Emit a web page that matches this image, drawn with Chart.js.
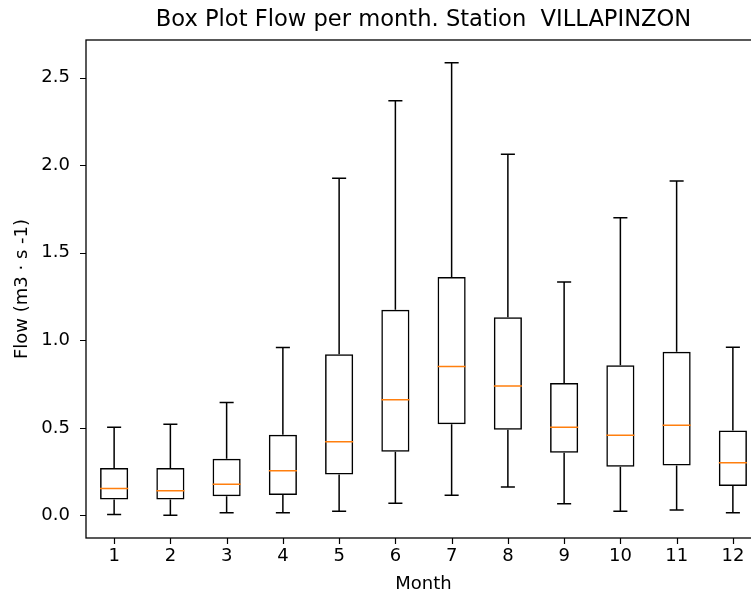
<!DOCTYPE html>
<html>
<head>
<meta charset="utf-8">
<title>Box Plot Flow per month</title>
<script src="https://cdn.jsdelivr.net/npm/chart.js@4.4.1/dist/chart.umd.min.js"></script>
<style>
  html, body { margin: 0; padding: 0; background: #fff; overflow: hidden; }
  #wrap { width: 751px; height: 595px; overflow: hidden; position: relative; }
  canvas { position: absolute; left: 0; top: 0; }
</style>
</head>
<body>
<div id="wrap"><canvas id="chart" width="847" height="595"></canvas></div>
<script>
// monthly flow statistics (m3/s)
const months = [1, 2, 3, 4, 5, 6, 7, 8, 9, 10, 11, 12];
const whiskerLow  = [0.005, 0.000, 0.015, 0.015, 0.023, 0.069, 0.115, 0.162, 0.067, 0.023, 0.030, 0.015];
const q1          = [0.090, 0.090, 0.109, 0.116, 0.233, 0.363, 0.520, 0.489, 0.357, 0.277, 0.285, 0.168];
const medians     = [0.153, 0.141, 0.178, 0.255, 0.420, 0.661, 0.850, 0.739, 0.503, 0.458, 0.515, 0.300];
const q3          = [0.270, 0.270, 0.324, 0.460, 0.920, 1.175, 1.362, 1.131, 0.756, 0.857, 0.934, 0.485];
const whiskerHigh = [0.504, 0.520, 0.645, 0.959, 1.925, 2.368, 2.586, 2.063, 1.333, 1.700, 1.910, 0.960];
const yTickValues = [0, 0.5, 1.0, 1.5, 2.0, 2.5];
const chartTitle = 'Box Plot Flow per month. Station  VILLAPINZON';

const BOX_HALF = 0.25;   // half box width, in x units
const CAP_HALF = 0.125;  // half cap width
const TICK_LEN = 6;
const FONT = "'DejaVu Sans', sans-serif";

// axis limits with 5% margin, like matplotlib autoscale
const lo = Math.min(...whiskerLow), hi = Math.max(...whiskerHigh);
const margin = (hi - lo) * 0.05;

// whisker segments + caps, separated by gaps
const whiskerPts = [];
const medianPts = [];
months.forEach((m, i) => {
  whiskerPts.push({x: m, y: q3[i]}, {x: m, y: whiskerHigh[i]}, {x: m, y: null});
  whiskerPts.push({x: m, y: q1[i]}, {x: m, y: whiskerLow[i]}, {x: m, y: null});
  whiskerPts.push({x: m - CAP_HALF, y: whiskerHigh[i]}, {x: m + CAP_HALF, y: whiskerHigh[i]}, {x: m, y: null});
  whiskerPts.push({x: m - CAP_HALF, y: whiskerLow[i]}, {x: m + CAP_HALF, y: whiskerLow[i]}, {x: m, y: null});
  medianPts.push({x: m - BOX_HALF, y: medians[i]}, {x: m + BOX_HALF, y: medians[i]}, {x: m, y: null});
});

// axes frame, outward tick marks, and the title centred over the plot area
const frame = {
  id: 'frame',
  afterDraw(chart) {
    const a = chart.chartArea, ctx = chart.ctx;
    const xs = chart.scales.x, ys = chart.scales.y;
    ctx.save();
    ctx.strokeStyle = '#000';
    ctx.lineWidth = 1.2;
    ctx.beginPath();
    months.forEach(v => {
      const px = Math.round(xs.getPixelForValue(v)) + 0.5;
      ctx.moveTo(px, a.bottom);
      ctx.lineTo(px, a.bottom + TICK_LEN);
    });
    yTickValues.forEach(v => {
      const py = Math.round(ys.getPixelForValue(v)) + 0.5;
      ctx.moveTo(a.left - TICK_LEN, py);
      ctx.lineTo(a.left, py);
    });
    ctx.stroke();
    ctx.lineWidth = 1.3;
    ctx.strokeRect(a.left, a.top, a.right - a.left, a.bottom - a.top);
    ctx.fillStyle = '#000';
    ctx.font = '22.6px ' + FONT;
    ctx.textAlign = 'center';
    ctx.textBaseline = 'middle';
    ctx.fillText(chartTitle, (a.left + a.right) / 2, a.top - 20);
    ctx.restore();
  }
};

new Chart(document.getElementById('chart'), {
  type: 'bar',
  data: {
    datasets: [
      {
        type: 'bar',
        data: months.map((m, i) => ({x: m, y: [q1[i], q3[i]]})),
        backgroundColor: 'rgba(0,0,0,0)',
        borderColor: '#000',
        borderWidth: 1.5,
        borderSkipped: false,
        barPercentage: 0.5,
        categoryPercentage: 1.0,
        order: 2
      },
      {
        type: 'line',
        data: whiskerPts,
        borderColor: '#000',
        borderWidth: 1.5,
        pointRadius: 0,
        spanGaps: false,
        fill: false,
        order: 1
      },
      {
        type: 'line',
        data: medianPts,
        borderColor: '#ff7f0e',
        borderWidth: 1.5,
        pointRadius: 0,
        spanGaps: false,
        fill: false,
        order: 0
      }
    ]
  },
  options: {
    responsive: false,
    animation: false,
    layout: { padding: { left: 0, right: 86, top: 40, bottom: 0 } },
    plugins: {
      legend: { display: false },
      tooltip: { enabled: false },
      title: { display: false }
    },
    scales: {
      x: {
        type: 'linear',
        min: 0.5,
        max: 12.5,
        offset: false,
        afterBuildTicks: s => { s.ticks = months.map(v => ({value: v})); },
        afterFit: s => { s.height = 57; },
        border: { display: false },
        grid: { display: false },
        ticks: { color: '#000', padding: 0, maxRotation: 0, font: { family: FONT, size: 18 } },
        title: {
          display: true, text: 'Month', color: '#000',
          font: { family: FONT, size: 18 }, padding: { top: 0, bottom: 0 }
        }
      },
      y: {
        type: 'linear',
        min: lo - margin,
        max: hi + margin,
        afterBuildTicks: s => { s.ticks = yTickValues.map(v => ({value: v})); },
        afterFit: s => { s.width = 86; },
        border: { display: false },
        grid: { display: false },
        ticks: { color: '#000', padding: 8, font: { family: FONT, size: 18 }, callback: v => v.toFixed(1) },
        title: {
          display: true, text: 'Flow (m3 · s -1)', color: '#000',
          font: { family: FONT, size: 18 }, padding: { top: 12, bottom: 0 }
        }
      }
    }
  },
  plugins: [frame]
});
</script>
</body>
</html>
